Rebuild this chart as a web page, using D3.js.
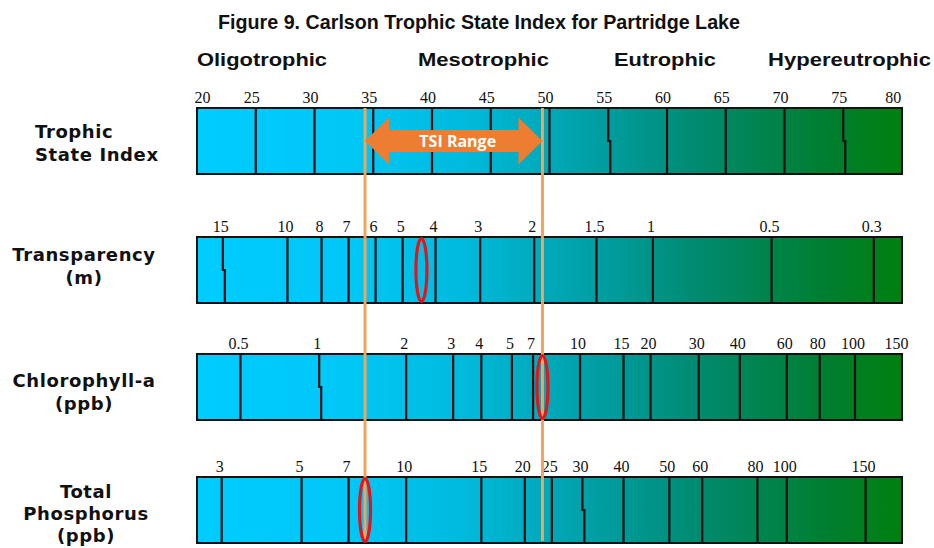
<!DOCTYPE html>
<html>
<head>
<meta charset="utf-8">
<script src="https://cdn.jsdelivr.net/npm/d3@7"></script>
<style>
  html, body { margin: 0; padding: 0; background: #ffffff; }
  svg { display: block; }
</style>
</head>
<body>
<script>
// ---------------- DATA ----------------
const title = "Figure 9. Carlson Trophic State Index for Partridge Lake";
const stateNames = ["Oligotrophic", "Mesotrophic", "Eutrophic", "Hypereutrophic"];

const rowNames = ["Trophic State Index", "Transparency (m)", "Chlorophyll-a (ppb)", "Total Phosphorus (ppb)"];

// TSI scale labels (positions in TSI units)
const tsiLabels = ["20","25","30","35","40","45","50","55","60","65","70","75","80"];
const tsiPos    = [20.8, 25, 30, 35, 40, 45, 50, 55, 60, 65, 70, 75, 79.6];

// Transparency (Secchi depth, m) labels and their TSI-equivalent positions
const sdLabels = ["15","10","8","7","6","5","4","3","2","1.5","1","0.5","0.3"];
const sdPos    = [22.2, 27.7, 30.6, 32.9, 35.2, 37.5, 40.3, 44.1, 48.7, 54.0, 58.8, 68.9, 77.6];

// Chlorophyll-a (ppb) labels and TSI-equivalent positions
const chlLabels = ["0.5","1","2","3","4","5","7","10","15","20","30","40","60","80","100","150"];
const chlPos    = [23.7, 30.4, 37.8, 41.8, 44.2, 46.8, 48.6, 52.6, 56.3, 58.6, 62.7, 66.2, 70.2, 73.0, 76.0, 79.7];

// Total phosphorus (ppb) labels and TSI-equivalent positions
const tpLabels = ["3","5","7","10","15","20","25","30","40","50","60","80","100","150"];
const tpPos    = [22.1, 28.9, 32.9, 37.8, 44.2, 47.9, 50.2, 52.8, 56.3, 60.2, 63.0, 67.7, 70.2, 76.9];

// Partridge Lake TSI results (circled values)
const lakeTSI_TP  = 34.3;
const lakeTSI_SD  = 39.1;
const lakeTSI_Chl = 49.4;
const rangeLabel = "TSI Range";

// ---------------- LAYOUT ----------------
const W = 934, H = 548;
const svg = d3.select("body").append("svg").attr("width", W).attr("height", H);

const x = d3.scaleLinear().domain([20, 80]).range([197, 902]);

// gradient
const defs = svg.append("defs");
const grad = defs.append("linearGradient").attr("id", "tsiGrad")
  .attr("gradientUnits", "userSpaceOnUse")
  .attr("x1", x(20)).attr("x2", x(80)).attr("y1", 0).attr("y2", 0);
[
  [0.00, "#00CCFF"],
  [0.22, "#00C7F6"],
  [0.38, "#00BADC"],
  [0.50, "#00A8B8"],
  [0.60, "#009A98"],
  [0.70, "#008C74"],
  [0.80, "#00844F"],
  [0.90, "#007E2E"],
  [1.00, "#008010"]
].forEach(([o, c]) => grad.append("stop").attr("offset", o).attr("stop-color", c));

// title
svg.append("text")
  .attr("x", 479).attr("y", 29)
  .attr("text-anchor", "middle")
  .attr("font-family", "Liberation Sans, Arial, sans-serif")
  .attr("font-weight", "bold")
  .attr("font-size", 21)
  .attr("textLength", 522).attr("lengthAdjust", "spacingAndGlyphs")
  .attr("fill", "#111")
  .text(title);

// trophic state headers
const headerX = [197, 418, 614, 768];
const headerW = [130, 131, 102, 163];
svg.selectAll("text.state").data(stateNames).join("text")
  .attr("class", "state")
  .attr("x", (d, i) => headerX[i]).attr("y", 66)
  .attr("font-family", "Liberation Sans, Arial, sans-serif")
  .attr("font-weight", "bold")
  .attr("font-size", 18)
  .attr("textLength", (d, i) => headerW[i]).attr("lengthAdjust", "spacingAndGlyphs")
  .attr("fill", "#111")
  .text(d => d);

// rows
const rows = [
  { labels: tsiLabels, pos: tsiPos, top: 108, jog: ["55", "75"],
    name: ["Trophic", "State Index"], anchor: "start", nx: 35, dy: 2, lh: 23 },
  { labels: sdLabels, pos: sdPos, top: 237, jog: ["15"],
    name: ["Transparency", "(m)"], anchor: "middle", nx: 84, dy: -4, lh: 23 },
  { labels: chlLabels, pos: chlPos, top: 354, jog: ["1"],
    name: ["Chlorophyll-a", "(ppb)"], anchor: "middle", nx: 84, dy: 5, lh: 23 },
  { labels: tpLabels, pos: tpPos, top: 477, jog: ["30"],
    name: ["Total", "Phosphorus", "(ppb)"], anchor: "middle", nx: 86, dy: 4, lh: 22 }
];
const barH = 66;

rows.forEach((r, ri) => {
  const g = svg.append("g");
  g.append("rect")
    .attr("x", x(20)).attr("y", r.top)
    .attr("width", x(80) - x(20)).attr("height", barH)
    .attr("fill", "url(#tsiGrad)")
    .attr("stroke", "#111").attr("stroke-width", 2);

  const items = r.labels.map((l, i) => ({ label: l, pos: r.pos[i] }));

  // tick separators
  g.selectAll("path.tick").data(items.filter(d => d.pos > 21 && d.pos < 79.5)).join("path")
    .attr("class", "tick")
    .attr("d", d => {
      const xx = x(d.pos);
      if (r.jog.includes(d.label)) {
        const mid = r.top + barH / 2;
        return `M${xx},${r.top}V${mid}H${xx + 2}V${r.top + barH}`;
      }
      return `M${xx},${r.top}V${r.top + barH}`;
    })
    .attr("fill", "none")
    .attr("stroke", "#111").attr("stroke-width", 2.2);

  // tick labels
  g.selectAll("text.lab").data(items).join("text")
    .attr("class", "lab")
    .attr("x", d => x(d.pos) - (ri === 0 ? 4 : 2))
    .attr("y", r.top - 5)
    .attr("text-anchor", "middle")
    .attr("font-family", "Liberation Serif, Times New Roman, serif")
    .attr("font-size", 16)
    .attr("fill", "#111")
    .text(d => d.label);

  // row name
  const lines = r.name;
  const baseY = r.top + barH / 2 - (lines.length - 1) * r.lh / 2 + 6 + r.dy;
  g.selectAll("text.name").data(lines).join("text")
    .attr("class", "name")
    .attr("x", r.nx)
    .attr("y", (d, i) => baseY + i * r.lh)
    .attr("text-anchor", r.anchor)
    .attr("font-family", "DejaVu Sans, Verdana, sans-serif")
    .attr("font-weight", "bold")
    .attr("font-size", 18)
    .attr("letter-spacing", 0.6)
    .attr("fill", "#111")
    .text(d => d);
});

// orange guide lines
const guideTop = 108, guideBottom = 541;
[lakeTSI_TP, lakeTSI_Chl].forEach(v => {
  svg.append("line")
    .attr("x1", x(v)).attr("x2", x(v))
    .attr("y1", guideTop).attr("y2", guideBottom)
    .attr("stroke", "#F0A45C").attr("stroke-width", 3);
});

// TSI range arrow
(function () {
  const x0 = x(lakeTSI_TP), x1 = x(lakeTSI_Chl);
  const cy = 141, bh = 11, hh = 23.5, hl = 24;
  const p = [
    [x0, cy], [x0 + hl, cy - hh], [x0 + hl, cy - bh], [x1 - hl, cy - bh],
    [x1 - hl, cy - hh], [x1, cy], [x1 - hl, cy + hh], [x1 - hl, cy + bh],
    [x0 + hl, cy + bh], [x0 + hl, cy + hh]
  ];
  svg.append("path")
    .attr("d", d3.line()(p) + "Z")
    .attr("fill", "#ED7D31");
  svg.append("text")
    .attr("x", (x0 + x1) / 2 + 4).attr("y", cy + 6)
    .attr("text-anchor", "middle")
    .attr("font-family", "Open Sans, Lato, sans-serif")
    .attr("font-weight", "bold")
    .attr("font-size", 16)
    .attr("fill", "#ffffff")
    .text(rangeLabel);
})();

// red ellipses marking the lake's values
const ellipses = [
  { v: lakeTSI_SD, top: rows[1].top },
  { v: lakeTSI_Chl, top: rows[2].top },
  { v: lakeTSI_TP, top: rows[3].top }
];
svg.selectAll("ellipse.mark").data(ellipses).join("ellipse")
  .attr("class", "mark")
  .attr("cx", d => x(d.v))
  .attr("cy", d => d.top + barH / 2)
  .attr("rx", 5.5).attr("ry", 31.5)
  .attr("fill", "none")
  .attr("stroke", "#E5141B").attr("stroke-width", 3.2);
</script>
</body>
</html>
